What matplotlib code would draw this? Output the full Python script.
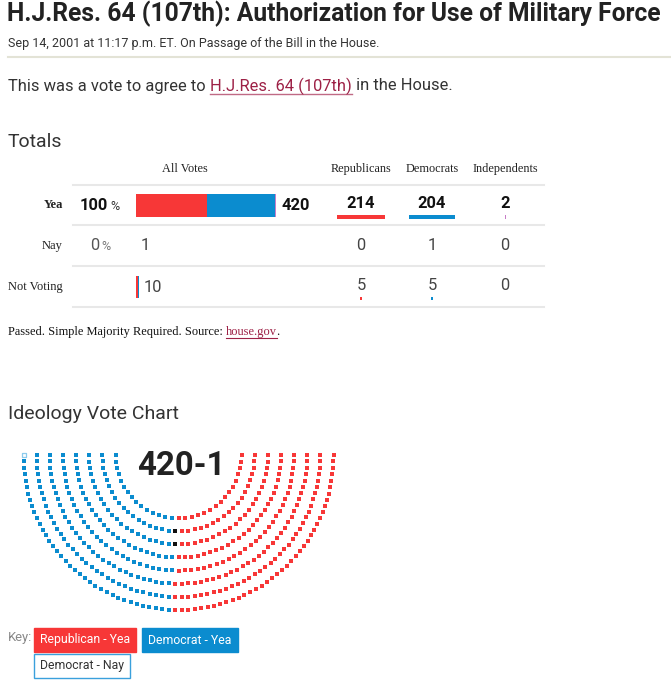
import numpy as np
import matplotlib.pyplot as plt
from matplotlib.patches import Rectangle

# --- vote totals (table) ---
row_labels = ['Yea', 'Nay', 'Not Voting']
all_votes = [420, 1, 10]
pct_labels = ['100', '0', '']
party_cols = ['Republicans', 'Democrats', 'Independents']
rep_votes = [214, 0, 5]
dem_votes = [204, 1, 5]
ind_votes = [2, 0, 0]

# --- ideology chart ---
score = '420-1'
row_seats = [31, 38, 44, 51, 57, 64, 70, 76]          # seats per arc, inner -> outer
seat_groups = ['Democrat - Nay', 'Democrat - Yea', 'Not Voting', 'Republican - Yea']
seat_counts = [1, 208, 2, 220]                        # in ideology order, left -> right
key_labels = ['Republican - Yea', 'Democrat - Yea', 'Democrat - Nay']

RED = '#f73737'
BLUE = '#0b8ccf'
PURPLE = '#c77dc7'
LINK = '#9d2146'
PT = 0.72   # px -> pt at 100 dpi

plt.rcParams['font.family'] = ['Roboto', 'DejaVu Sans']
fig = plt.figure(figsize=(6.71, 6.80), dpi=100)
ax = fig.add_axes([0, 0, 1, 1])
ax.set_xlim(0, 671)
ax.set_ylim(680, 0)
ax.axis('off')
rend = fig.canvas.get_renderer()


def txt(x, y, s, px, **kw):
    kw.setdefault('va', 'center')
    kw.setdefault('color', '#333333')
    return ax.text(x, y, s, fontsize=px * PT, **kw)


def right_edge(t):
    return t.get_window_extent(renderer=rend).x1


def width_of(t):
    return t.get_window_extent(renderer=rend).width


# header
txt(7, 14, 'H.J.Res. 64 (107th): Authorization for Use of Military Force', 24.6,
    fontweight='bold', color='#222222')
txt(8, 44, 'Sep 14, 2001 at 11:17 p.m. ET. On Passage of the Bill in the House.', 12.5,
    color='#333333')
ax.plot([8, 671], [57, 57], color='#e3e3d6', lw=1.5)

t1 = txt(8, 86, 'This was a vote to agree to ', 16.5)
x = right_edge(t1)
t2 = txt(x, 86, 'H.J.Res. 64 (107th)', 16.5, color=LINK)
x2 = right_edge(t2)
ax.plot([x, x2], [94, 94], color='#c06a85', lw=1)
txt(x2, 86, ' in the House.', 16.5)

# totals table
txt(8, 142, 'Totals', 19.5, color='#333333')
serif = ['Liberation Serif', 'DejaVu Serif']
txt(185, 169, 'All Votes', 12.3, ha='center', family=serif, color='#222222')
col_x = [361, 432, 505]
for cx_, name in zip(col_x, party_cols):
    txt(cx_, 169, name, 12.3, ha='center', family=serif, color='#222222')

row_y = [205, 246, 287]
for ly in [185, 225, 266, 307]:
    ax.plot([73, 544], [ly, ly], color='#e8e8e8', lw=1.5)

k_bar = 0.333     # px per vote, all-votes bar
k_line = 0.226    # px per vote, party underline
for i, (lab, y) in enumerate(zip(row_labels, row_y)):
    bold = i == 0
    txt(63, y, lab, 12.5, ha='right', family=serif, color='#222222',
        fontweight='bold' if bold else 'normal')
    if pct_labels[i]:
        px_ = 108 if bold else 99
        txt(px_, y, pct_labels[i], 16.5, ha='right',
            fontweight='bold' if bold else 'normal',
            color='#111111' if bold else '#555555')
        txt(px_ + 2, y + 1, '%', 12.5, ha='left',
            color='#333333' if bold else '#777777')
    # stacked bar of the vote by party
    segs = [(rep_votes[i], RED), (dem_votes[i], BLUE), (ind_votes[i], PURPLE)]
    left = 136
    for v, c in segs:
        if v:
            ax.barh(y, v * k_bar, left=left, height=23 if bold else 22, color=c)
            left += v * k_bar
    if bold:
        txt(282, y, str(all_votes[i]), 16.5, fontweight='bold', color='#111111')
    else:
        txt(left + 4, y, str(all_votes[i]), 16.5, color='#444444')
    for cx_, vals, c in zip(col_x, [rep_votes, dem_votes, ind_votes], [RED, BLUE, PURPLE]):
        v = vals[i]
        txt(cx_, y - 1, str(v), 16.5, ha='center',
            fontweight='bold' if bold else 'normal',
            color='#111111' if bold else '#444444')
        if v >= 2:
            w = max(v * k_line, 1.0)
            ax.add_patch(Rectangle((cx_ - w / 2, y + 10), w, 4 if bold else 3,
                                   color=c, lw=0))

t1 = ax.text(8, 332, 'Passed. Simple Majority Required. Source: ', fontsize=12.4 * PT,
             family=serif, va='center', color='#111111')
x = right_edge(t1)
t2 = ax.text(x, 332, 'house.gov', fontsize=12.4 * PT, family=serif, va='center', color=LINK)
x2 = right_edge(t2)
ax.plot([x, x2], [338, 338], color=LINK, lw=0.8)
ax.text(x2 - 1, 332, '.', fontsize=12.4 * PT, family=serif, va='center', color='#111111')

# ideology vote chart
txt(8, 414, 'Ideology Vote Chart', 19.5, color='#333333')
txt(181, 466, score, 33, ha='center', fontweight='bold', color='#222222')

cx, cy = 178.5, 455
radii = np.linspace(63, 155, len(row_seats))
sx, sy, st, sr = [], [], [], []
for j, (r, n) in enumerate(zip(radii, row_seats)):
    t = np.linspace(0, 1, n)
    ang = np.pi * (1 - t)
    sx += list(cx + r * np.cos(ang))
    sy += list(cy + r * np.sin(ang))
    st += list(t)
    sr += [j] * n
sx, sy = np.array(sx), np.array(sy)
order = np.lexsort((-np.array(sr), np.array(st)))

group_style = {
    'Democrat - Nay': ('white', '#8ccbed'),
    'Democrat - Yea': (BLUE, BLUE),
    'Not Voting': ('#111111', '#111111'),
    'Republican - Yea': (RED, RED),
}
start = 0
for g, n in zip(seat_groups, seat_counts):
    idx = order[start:start + n]
    fc, ec = group_style[g]
    ax.scatter(sx[idx], sy[idx], s=9.5, marker='s', facecolor=fc, edgecolor=ec,
               linewidths=0.9 if fc == 'white' else 0, zorder=3)
    start += n

# key
txt(8, 637, 'Key:', 13, color='#888888')
key_style = {
    'Republican - Yea': (RED, RED, 'white'),
    'Democrat - Yea': (BLUE, BLUE, 'white'),
    'Democrat - Nay': ('white', '#3aa0dc', '#333333'),
}
bx, by = 34, 628
for lab in key_labels:
    fc, ec, tc = key_style[lab]
    if lab == 'Democrat - Nay':
        bx, by = 34, 654
    t = txt(bx + 6, by + 12, lab, 12.2, color=tc, zorder=5)
    w = width_of(t) + 12
    ax.add_patch(Rectangle((bx, by), w, 24, facecolor=fc, edgecolor=ec, lw=1, zorder=4))
    bx += w + 6

fig.savefig('out.png', dpi=100)
